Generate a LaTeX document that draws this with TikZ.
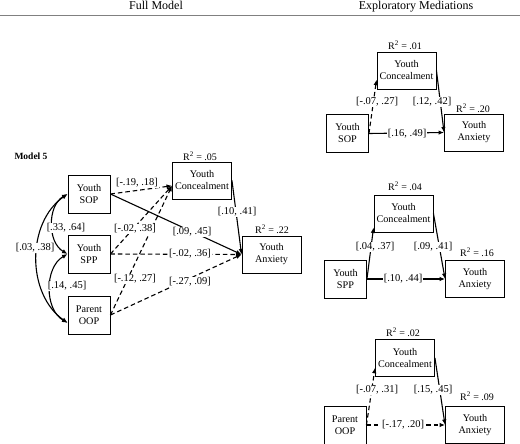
\documentclass[tikz,border=0pt]{standalone}
\usepackage{fontspec}
\setmainfont{Liberation Serif}
\usetikzlibrary{arrows.meta}
\tikzset{
  var box/.style={draw, line width=0.9pt, minimum width=42pt, minimum height=38pt, inner sep=1pt, align=center, font=\fontsize{10.2}{12}\selectfont},
  wide box/.style={var box, minimum width=59pt, minimum height=37pt},
  ci label/.style={fill=white, inner sep=1pt, font=\fontsize{10.5}{12}\selectfont},
  rsq label/.style={inner sep=0pt, font=\fontsize{10}{12}\selectfont},
  path arrow/.style={line width=1.1pt, -{Latex[length=5.5pt,width=4.5pt]}},
  dashed path/.style={path arrow, dash pattern=on 4.5pt off 3pt},
  cov arrow/.style={line width=1.1pt, {Latex[length=5.5pt,width=4.5pt]}-{Latex[length=5.5pt,width=4.5pt]}},
}
\begin{document}
\begin{tikzpicture}[x=1pt, y=-1pt]
    \useasboundingbox (0,0) rectangle (520,444);

    \node[anchor=base, inner sep=0pt, font=\fontsize{12}{14}\selectfont] (fullhead) at (156,9.5) {Full Model};
    \node[anchor=base, inner sep=0pt, font=\fontsize{12}{14}\selectfont] (explhead) at (416,9.5) {Exploratory Mediations};
    \draw [gray, line width=0.6pt] (0,15) -- (520,15);

    % full model
    \node[inner sep=0pt, font=\bfseries\fontsize{9.5}{11}\selectfont] (modelfive) at (31,156) {Model 5};
    \node[var box] (sop) at (89,194) {Youth\\SOP};
    \node[var box] (spp) at (89,254) {Youth\\SPP};
    \node[var box] (oop) at (89,315) {Parent\\OOP};
    \node[wide box] (conc) at (202,180.5) {Youth\\Concealment};
    \node[wide box] (anx) at (271.5,254.5) {Youth\\Anxiety};
    \node[rsq label] (concrsq) at (200,156.5) {R\textsuperscript{2} = .05};
    \node[rsq label] (anxrsq) at (272,229.5) {R\textsuperscript{2} = .22};

    \draw [dashed path] (sop.east) -- (conc.190);
    \draw [path arrow] (sop.east) -- (anx.west);
    \draw [dashed path] (spp.east) -- (conc.190);
    \draw [dashed path] (spp.east) -- (anx.west);
    \draw [dashed path] (oop.east) -- (conc.190);
    \draw [dashed path] (oop.east) -- (anx.west);
    \draw [path arrow] (conc.east) -- (anx.west);

    \draw [cov arrow] (sop.west) to[bend right=60] (spp.west);
    \draw [cov arrow] (spp.west) to[bend right=60] (oop.200);
    \draw [cov arrow] (sop.west) to[bend right=55] (oop.200);

    \node[ci label] (sopconc) at (137,183) {[-.19, .18]};
    \node[ci label] (sppconc) at (135,229) {[-.02, .38]};
    \node[ci label] (oopconc) at (135,279) {[-.12, .27]};
    \node[ci label] (sopanx) at (192,232) {[.09, .45]};
    \node[ci label] (sppanx) at (190,254) {[-.02, .36]};
    \node[ci label] (oopanx) at (190,282) {[-.27, .09]};
    \node[ci label] (concanx) at (237,212) {[.10, .41]};
    \node[ci label] (sopspp) at (66,228) {[.33, .64]};
    \node[ci label] (sppoop) at (67,286) {[.14, .45]};
    \node[ci label] (sopoop) at (35,248) {[.03, .38]};

    % exploratory mediations: SOP
    \node[wide box] (concone) at (406.5,70.5) {Youth\\Concealment};
    \node[var box] (sopone) at (347.5,133.5) {Youth\\SOP};
    \node[wide box] (anxone) at (474,132.5) {Youth\\Anxiety};
    \node[rsq label] (conconersq) at (405,45) {R\textsuperscript{2} = .01};
    \node[rsq label] (anxonersq) at (473,108) {R\textsuperscript{2} = .20};

    \draw [dashed path] (sopone.east) -- (concone.197);
    \draw [path arrow] (concone.east) -- (anxone.west);
    \draw [path arrow] (sopone.east) -- (anxone.west);

    \node[ci label] (soponea) at (377,102) {[-.07, .27]};
    \node[ci label] (soponeb) at (432,102) {[.12, .42]};
    \node[ci label] (soponec) at (407,134) {[.16, .49]};

    % exploratory mediations: SPP
    \node[wide box] (conctwo) at (403.5,213.5) {Youth\\Concealment};
    \node[var box] (spptwo) at (345.5,279) {Youth\\SPP};
    \node[wide box] (anxtwo) at (475,279) {Youth\\Anxiety};
    \node[rsq label] (conctworsq) at (405,186) {R\textsuperscript{2} = .04};
    \node[rsq label] (anxtworsq) at (477,252) {R\textsuperscript{2} = .16};

    \draw [path arrow] (spptwo.east) -- (conctwo.205);
    \draw [path arrow] (conctwo.east) -- (anxtwo.west);
    \draw [path arrow] (spptwo.east) -- (anxtwo.west);

    \node[ci label] (spptwoa) at (375,247) {[.04, .37]};
    \node[ci label] (spptwob) at (433,247) {[.09, .41]};
    \node[ci label] (spptwoc) at (403,279) {[.10, .44]};

    % exploratory mediations: OOP
    \node[wide box] (concthree) at (405,358) {Youth\\Concealment};
    \node[var box] (oopthree) at (345,425) {Parent\\OOP};
    \node[wide box] (anxthree) at (475,425) {Youth\\Anxiety};
    \node[rsq label] (concthreersq) at (403,332) {R\textsuperscript{2} = .02};
    \node[rsq label] (anxthreersq) at (477,396) {R\textsuperscript{2} = .09};

    \draw [dashed path] (oopthree.east) -- (concthree.198);
    \draw [path arrow] (concthree.east) -- (anxthree.west);
    \draw [dashed path] (oopthree.east) -- (anxthree.west);

    \node[ci label] (oopthreea) at (377,390) {[-.07, .31]};
    \node[ci label] (oopthreeb) at (433,390) {[.15, .45]};
    \node[ci label] (oopthreec) at (403,425) {[-.17, .20]};

  \end{tikzpicture}
\end{document}
